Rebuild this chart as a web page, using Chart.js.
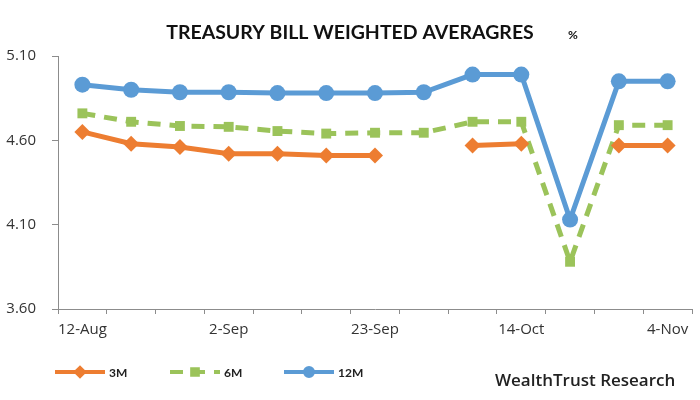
<!DOCTYPE html>
<html>
<head>
<meta charset="utf-8">
<script src="https://cdn.jsdelivr.net/npm/chart.js@4.4.0/dist/chart.umd.min.js"></script>
<style>
  html, body { margin: 0; padding: 0; background: #fff; }
  #wrap { width: 700px; height: 400px; position: relative; }
</style>
</head>
<body>
<div id="wrap"><canvas id="myChart"></canvas></div>
<script>
var dates = ['12-Aug', '19-Aug', '26-Aug', '2-Sep', '9-Sep', '16-Sep', '23-Sep', '30-Sep', '7-Oct', '14-Oct', '21-Oct', '28-Oct', '4-Nov'];
var shownDates = ['12-Aug', '2-Sep', '23-Sep', '14-Oct', '4-Nov'];
var yTicks = [3.60, 4.10, 4.60, 5.10];

var m3 = [4.65, 4.58, 4.56, 4.52, 4.52, 4.51, 4.51, null, 4.57, 4.58, null, 4.57, 4.57];
var m6 = [4.76, 4.71, 4.685, 4.68, 4.655, 4.64, 4.645, 4.645, 4.71, 4.71, 3.88, 4.69, 4.69];
var m12 = [4.93, 4.90, 4.885, 4.885, 4.88, 4.88, 4.88, 4.885, 4.99, 4.99, 4.13, 4.95, 4.95];

var orange = '#ED7D31';
var green = '#9BC35A';
var blue = '#5B9BD5';
var axisColor = '#8c8c8c';

// title, unit and source text plus the little legend under the axis
var decor = {
  id: 'decor',
  afterDraw: function(chart) {
    var c = chart.ctx;
    c.save();
    c.fillStyle = '#111';
    c.textBaseline = 'middle';
    c.textAlign = 'center';
    c.font = 'bold 19.5px Lato';
    c.fillText('TREASURY BILL WEIGHTED AVERAGRES', 350, 33);
    c.font = 'bold 12px Lato';
    c.fillText('%', 573, 35);
    c.textAlign = 'left';
    c.font = '600 17px "Open Sans"';
    c.fillStyle = '#222';
    c.fillText('WealthTrust Research', 495, 381);

    var items = [
      { x: 55, ds: chart.data.datasets[0] },
      { x: 170, ds: chart.data.datasets[1] },
      { x: 284, ds: chart.data.datasets[2] }
    ];
    var y = 372;
    items.forEach(function(it) {
      var ds = it.ds;
      c.strokeStyle = ds.borderColor;
      c.lineWidth = 4;
      c.setLineDash(ds.borderDash || []);
      c.beginPath();
      c.moveTo(it.x, y);
      c.lineTo(it.x + 50, y);
      c.stroke();
      c.setLineDash([]);
      Chart.helpers.drawPoint(c, {
        pointStyle: ds.pointStyle,
        radius: 4,
        borderWidth: 1
      }, it.x + 25, y);
      c.fillStyle = ds.borderColor;
      c.fill();
      c.fillStyle = '#222';
      c.font = 'bold 12px Lato';
      c.fillText(ds.label, it.x + 54, y + 1);
    });
    c.restore();
  }
};

window.onload = function() {
  var ctx = document.getElementById('myChart');
  new Chart(ctx, {
    type: 'line',
    data: {
      labels: dates,
      datasets: [{
        label: '3M',
        data: m3,
        borderColor: orange,
        backgroundColor: orange,
        borderWidth: 5,
        pointStyle: 'rectRot',
        pointRadius: 8,
        pointBorderWidth: 0,
        spanGaps: false
      }, {
        label: '6M',
        data: m6,
        borderColor: green,
        backgroundColor: green,
        borderWidth: 5,
        borderDash: [13, 9],
        pointStyle: 'rect',
        pointRadius: 7,
        pointBorderWidth: 0
      }, {
        label: '12M',
        data: m12,
        borderColor: blue,
        backgroundColor: blue,
        borderWidth: 5,
        pointStyle: 'circle',
        pointRadius: 8,
        pointBorderWidth: 0
      }]
    },
    options: {
      animation: false,
      responsive: true,
      maintainAspectRatio: false,
      layout: { padding: { top: 56, right: 8, bottom: 51, left: 0 } },
      plugins: {
        legend: { display: false },
        title: { display: false },
        tooltip: { enabled: false }
      },
      scales: {
        x: {
          offset: true,
          afterFit: function(s) { s.height = 40; },
          border: { color: axisColor, width: 1 },
          grid: { display: true, drawOnChartArea: false, drawTicks: true, tickLength: 5, color: axisColor, offset: true },
          ticks: {
            autoSkip: false,
            maxRotation: 0,
            padding: 7,
            color: '#333',
            font: { family: '"Open Sans"', size: 15 },
            callback: function(v, i) {
              var lab = dates[i];
              return shownDates.indexOf(lab) >= 0 ? lab : '';
            }
          }
        },
        y: {
          min: 3.6,
          max: 5.1,
          afterFit: function(s) { s.width = 58; },
          afterBuildTicks: function(s) {
            s.ticks = yTicks.map(function(v) { return { value: v }; });
          },
          border: { color: axisColor, width: 1 },
          grid: { display: true, drawOnChartArea: false, drawTicks: true, tickLength: 6, color: axisColor },
          ticks: {
            padding: 16,
            color: '#333',
            font: { family: '"Open Sans"', size: 15 },
            callback: function(v) { return Number(v).toFixed(2); }
          }
        }
      }
    },
    plugins: [decor]
  });
};
</script>
</body>
</html>
